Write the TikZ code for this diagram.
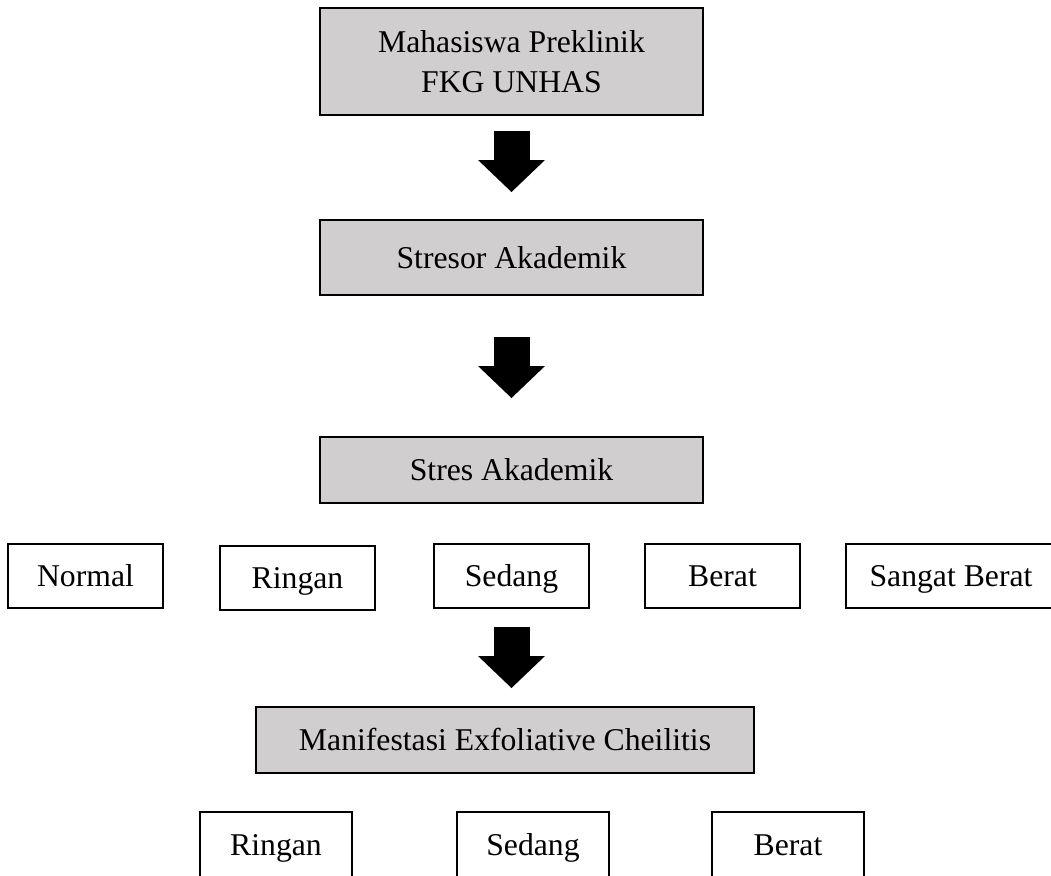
\documentclass[tikz,border=0pt]{standalone}
\usepackage{fontspec}
\setmainfont{Liberation Serif}
\usetikzlibrary{arrows.meta}
\definecolor{boxgray}{RGB}{208,206,206}
\begin{document}
\begin{tikzpicture}[x=1pt,y=-1pt,
  box/.style={draw=black, line width=2.2pt, inner sep=0pt, outer sep=0pt,
    font=\fontsize{31.7}{40}\selectfont},
  oneline/.style={text height=24pt, text depth=3pt},
  graybox/.style={box, fill=boxgray},
  bigarrow/.style={draw=black, line width=36pt,
    -{Triangle[width=67pt,length=32pt,line width=0pt]}}]
\useasboundingbox (0,0) rectangle (1051,875);
% main column
\node[graybox, align=center, minimum width=383pt, minimum height=107pt] (b1) at (511.5,61.5) {Mahasiswa Preklinik\\FKG UNHAS};
\node[graybox, oneline, minimum width=383pt, minimum height=75pt] (b2) at (511.5,257.5) {Stresor Akademik};
\node[graybox, oneline, minimum width=383pt, minimum height=66pt] (b3) at (511.5,470) {Stres Akademik};
% stress levels
\node[box, oneline, minimum width=155pt, minimum height=64pt] (n1) at (85.5,576) {Normal};
\node[box, oneline, minimum width=155pt, minimum height=64pt] (n2) at (297.5,578) {Ringan};
\node[box, oneline, minimum width=155pt, minimum height=64pt] (n3) at (511.5,576) {Sedang};
\node[box, oneline, minimum width=155pt, minimum height=64pt] (n4) at (722.5,576) {Berat};
\node[box, oneline, minimum width=210pt, minimum height=64pt] (n5) at (951,576) {Sangat Berat};
% manifestation
\node[graybox, oneline, minimum width=498pt, minimum height=66pt] (b4) at (505,740) {Manifestasi Exfoliative Cheilitis};
\node[box, oneline, minimum width=152pt, minimum height=66pt] (m1) at (276,845) {Ringan};
\node[box, oneline, minimum width=152pt, minimum height=66pt] (m2) at (533,845) {Sedang};
\node[box, oneline, minimum width=152pt, minimum height=66pt] (m3) at (788,845) {Berat};
% block arrows
\draw[bigarrow, shorten <=16pt, shorten >=28pt] (b1.south) -- (b2.north);
\draw[bigarrow, shorten <=42pt, shorten >=39pt] (b2.south) -- (b3.north);
\draw[bigarrow, shorten <=19pt, shorten >=19pt] (n3.south) -- (n3.south |- b4.north);
\end{tikzpicture}
\end{document}
